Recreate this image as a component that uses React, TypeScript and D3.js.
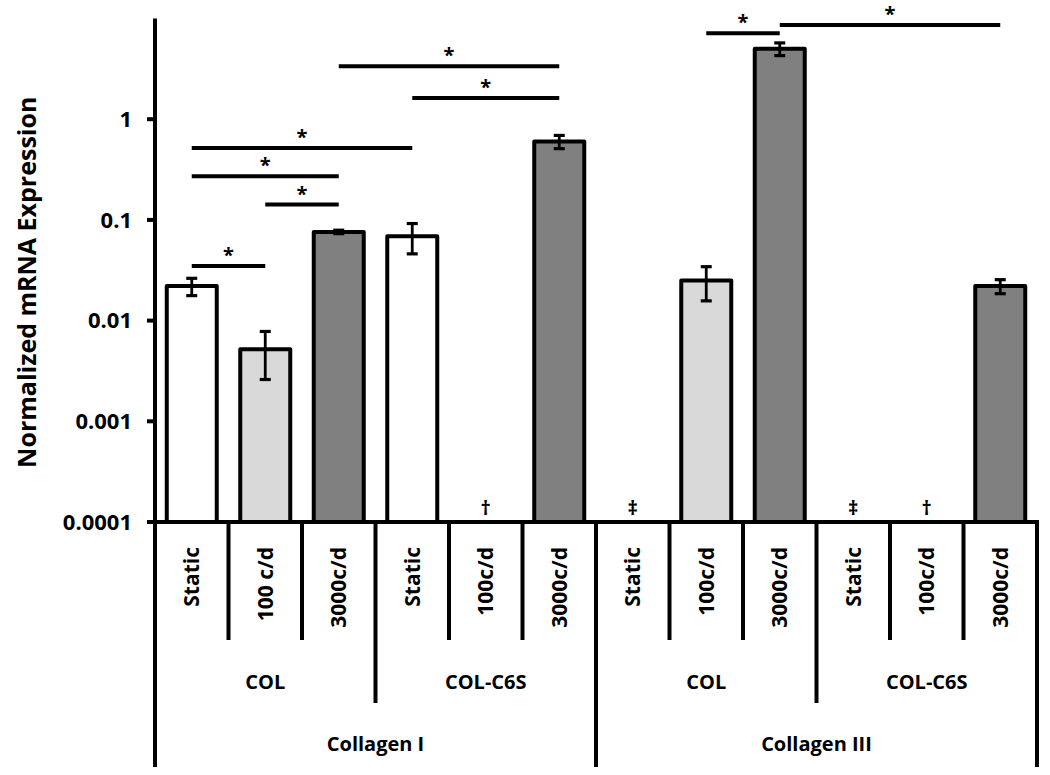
import React from "react";
import * as d3 from "d3";

const categories = ["Static", "100 c/d", "3000c/d", "Static", "100c/d", "3000c/d", "Static", "100c/d", "3000c/d", "Static", "100c/d", "3000c/d"];
const conditions = ["static", "low", "high", "static", "low", "high", "static", "low", "high", "static", "low", "high"];
const substrates = ["COL", "COL-C6S", "COL", "COL-C6S"];
const genes = ["Collagen I", "Collagen III"];
const means: (number | null)[] = [0.022, 0.0052, 0.076, 0.069, null, 0.6, null, 0.025, 5.0, null, null, 0.022];
const errors: (number | null)[] = [0.0043, 0.0026, 0.003, 0.023, null, 0.09, null, 0.0093, 0.72, null, null, 0.0035];
const markers: (string | null)[] = [null, null, null, null, "†", null, "‡", null, null, "‡", "†", null];
const yTicks = [0.0001, 0.001, 0.01, 0.1, 1];
const yTickLabels = ["0.0001", "0.001", "0.01", "0.1", "1"];
// significance comparisons: [from category, to category, bar level]
const sigFrom = [0, 1, 0, 0, 3, 2, 7, 8];
const sigTo = [1, 2, 2, 3, 5, 5, 8, 11];
const sigLevel = [0.0348, 0.142, 0.272, 0.519, 1.62, 3.36, 7.14, 8.63];

const fillFor: Record<string, string> = { static: "#ffffff", low: "#d9d9d9", high: "#808080" };
const FONT = "'Open Sans', 'Liberation Sans', sans-serif";

export default function App() {
  const W = 1050, H = 775;
  const x0 = 155, x1 = 1037;
  const yBase = 522;
  const y = d3.scaleLog().domain([1e-4, 10]).range([yBase, 18.5]);
  const xb = d3.scaleBand<number>().domain(d3.range(categories.length)).range([x0, x1]);
  const cx = (i: number) => (xb(i) as number) + xb.bandwidth() / 2;
  const bw = 50;
  const capW = 11;

  return (
    <svg width={W} height={H} style={{ position: "absolute", left: 0, top: 0, background: "#fff" }} fontFamily={FONT}>
      {/* bars */}
      {means.map((m, i) =>
        m == null ? null : (
          <rect key={"b" + i} x={cx(i) - bw / 2} y={y(m)} width={bw} height={yBase - y(m)}
            fill={fillFor[conditions[i]]} stroke="#000" strokeWidth={4} strokeLinejoin="round" />
        )
      )}
      {/* error bars */}
      {means.map((m, i) => {
        if (m == null || errors[i] == null) return null;
        const hi = y(m + (errors[i] as number));
        const lo = y(Math.max(m - (errors[i] as number), 1e-4));
        const c = cx(i);
        return (
          <g key={"e" + i} stroke="#000" strokeWidth={2.8}>
            <line x1={c} x2={c} y1={hi} y2={lo} />
            <line x1={c - capW / 2} x2={c + capW / 2} y1={hi} y2={hi} strokeWidth={3.2} />
            <line x1={c - capW / 2} x2={c + capW / 2} y1={lo} y2={lo} strokeWidth={3.2} />
          </g>
        );
      })}
      {/* markers */}
      {markers.map((mk, i) =>
        mk == null ? null : (
          <text key={"m" + i} x={cx(i)} y={515} textAnchor="middle" fontSize={20} fontWeight={700}>{mk}</text>
        )
      )}
      {/* significance bars */}
      {sigFrom.map((f, k) => {
        const yy = y(sigLevel[k]);
        const a = cx(f), b = cx(sigTo[k]);
        return (
          <g key={"s" + k}>
            <line x1={a} x2={b} y1={yy} y2={yy} stroke="#000" strokeWidth={4} />
            <text x={(a + b) / 2} y={yy - 4} textAnchor="middle" fontSize={20} fontWeight={700}>*</text>
          </g>
        );
      })}
      {/* y axis */}
      <line x1={x0} x2={x0} y1={y(10)} y2={767} stroke="#000" strokeWidth={4} />
      {yTicks.map((t, i) => (
        <g key={"t" + i}>
          <line x1={x0 - 8} x2={x0} y1={y(t)} y2={y(t)} stroke="#000" strokeWidth={4} />
          <text x={132} y={y(t)} dy="0.35em" textAnchor="end" fontSize={22} fontWeight={700}>{yTickLabels[i]}</text>
        </g>
      ))}
      <text transform={`translate(27,${(y(10) + yBase) / 2 + 12}) rotate(-90)`} dy="0.35em" textAnchor="middle" fontSize={25} fontWeight={700}>
        Normalized mRNA Expression
      </text>
      {/* baseline */}
      <line x1={x0 - 8} x2={x1 + 2} y1={yBase} y2={yBase} stroke="#000" strokeWidth={4} />
      {/* category dividers */}
      {d3.range(1, categories.length + 1).map((i) => {
        const xx = i === categories.length ? x1 : (xb(i) as number);
        const bottom = i % 6 === 0 ? 767 : i % 3 === 0 ? 703 : 640;
        return <line key={"d" + i} x1={xx} x2={xx} y1={yBase} y2={bottom} stroke="#000" strokeWidth={4} />;
      })}
      {/* category labels */}
      {categories.map((c, i) => (
        <text key={"c" + i} transform={`translate(${cx(i)},547) rotate(-90)`} dy="0.35em" textAnchor="end" fontSize={21} fontWeight={700}>{c}</text>
      ))}
      {substrates.map((s, k) => (
        <text key={"sub" + k} x={((xb(k * 3) as number) + (xb(k * 3 + 2) as number) + xb.bandwidth()) / 2} y={689} textAnchor="middle" fontSize={20} fontWeight={700}>{s}</text>
      ))}
      {genes.map((g, k) => (
        <text key={"g" + k} x={((xb(k * 6) as number) + (xb(k * 6 + 5) as number) + xb.bandwidth()) / 2} y={751} textAnchor="middle" fontSize={20} fontWeight={700}>{g}</text>
      ))}
    </svg>
  );
}
